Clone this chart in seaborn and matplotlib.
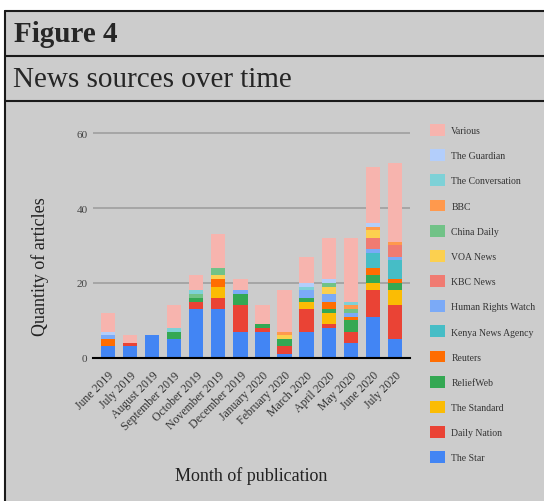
import numpy as np
import pandas as pd
import matplotlib.pyplot as plt
import seaborn as sns
from matplotlib.patches import Patch, Rectangle
from matplotlib.lines import Line2D

# data
months = ["June 2019", "July 2019", "August 2019", "September 2019", "October 2019",
          "November 2019", "December 2019", "January 2020", "February 2020",
          "March 2020", "April 2020", "May 2020", "June 2020", "July 2020"]

the_star = [3, 3, 6, 5, 13, 13, 7, 7, 1, 7, 8, 4, 11, 5]
daily_nation = [0, 1, 0, 0, 2, 3, 7, 1, 2, 6, 1, 3, 7, 9]
the_standard = [0, 0, 0, 0, 0, 3, 0, 0, 0, 2, 3, 0, 2, 4]
reliefweb = [0, 0, 0, 2, 1, 0, 3, 1, 2, 1, 1, 3, 2, 2]
reuters = [2, 0, 0, 0, 0, 2, 0, 0, 0, 0, 2, 1, 2, 1]
kenya_news_agency = [0, 0, 0, 0, 0, 0, 0, 0, 0, 0, 0, 0, 4, 5]
human_rights_watch = [1, 0, 0, 0, 0, 0, 1, 0, 0, 2, 2, 1, 1, 1]
kbc_news = [0, 0, 0, 0, 0, 0, 0, 0, 0, 0, 0, 0, 3, 3]
voa_news = [0, 0, 0, 0, 0, 1, 0, 0, 1, 0, 2, 0, 2, 0]
china_daily = [0, 0, 0, 0, 1, 2, 0, 0, 0, 0, 1, 1, 0, 0]
bbc = [0, 0, 0, 0, 0, 0, 0, 0, 1, 0, 0, 1, 1, 1]
the_conversation = [0, 0, 0, 1, 1, 0, 0, 0, 0, 1, 0, 1, 0, 0]
the_guardian = [1, 0, 0, 0, 0, 0, 0, 0, 0, 1, 1, 0, 1, 0]
various = [5, 2, 0, 6, 4, 9, 3, 5, 11, 7, 11, 17, 15, 21]

# legend order (top of stack first)
sources = ["Various", "The Guardian", "The Conversation", "BBC", "China Daily",
           "VOA News", "KBC News", "Human Rights Watch", "Kenya News Agency",
           "Reuters", "ReliefWeb", "The Standard", "Daily Nation", "The Star"]
colors = ["#F7B4AE", "#B3CEFB", "#7ED1D7", "#FF994D", "#71C287",
          "#FCD04F", "#F07B72", "#7BAAF7", "#46BDC6",
          "#FF6D01", "#34A853", "#FBBC04", "#EA4335", "#4285F4"]

counts = {
    "Various": various, "The Guardian": the_guardian,
    "The Conversation": the_conversation, "BBC": bbc, "China Daily": china_daily,
    "VOA News": voa_news, "KBC News": kbc_news,
    "Human Rights Watch": human_rights_watch, "Kenya News Agency": kenya_news_agency,
    "Reuters": reuters, "ReliefWeb": reliefweb, "The Standard": the_standard,
    "Daily Nation": daily_nation, "The Star": the_star,
}

wide = pd.DataFrame(counts)
wide["idx"] = np.arange(len(months))
df = wide.melt(id_vars="idx", var_name="source", value_name="n")

sns.set_theme(style="white")
plt.rcParams["font.family"] = ["Liberation Serif", "DejaVu Serif"]

W, H = 544, 502
fig = plt.figure(figsize=(W / 100, H / 100), dpi=100)
fig.patch.set_facecolor("white")

# grey panel + frame lines
fig.add_artist(Rectangle((5 / W, 0), 1, 1 - 12 / H, transform=fig.transFigure,
                         facecolor="#cccccc", edgecolor="none", zorder=-10))
for yy in [12, 57, 102]:
    fig.add_artist(Line2D([5 / W, 1], [1 - yy / H, 1 - yy / H], transform=fig.transFigure,
                          color="#1a1a1a", lw=1.5))
fig.add_artist(Line2D([5 / W, 5 / W], [0, 1 - 12 / H], transform=fig.transFigure,
                      color="#1a1a1a", lw=1.5))

fig.text(14 / W, 1 - 35 / H, "Figure 4", fontsize=21, fontweight="bold", va="center")
fig.text(13 / W, 1 - 80 / H, "News sources over time", fontsize=21, va="center")

ax = fig.add_axes([93 / W, (H - 358.7) / H, 317 / W, 226.4 / H])
ax.set_facecolor("#cccccc")

sns.histplot(data=df, x="idx", weights="n", hue="source", hue_order=sources,
             palette=colors, multiple="stack", discrete=True, shrink=0.65,
             linewidth=0, alpha=1, legend=False, ax=ax)

ax.set_xlim(-0.67, 13.68)
ax.set_ylim(0, 60.5)
ax.set_yticks([0, 20, 40, 60])
ax.yaxis.grid(True, color="#a3a3a3", lw=1.3)
ax.set_axisbelow(True)
for s in ["top", "right", "left"]:
    ax.spines[s].set_visible(False)
ax.spines["bottom"].set_color("black")
ax.spines["bottom"].set_linewidth(1.5)
ax.tick_params(axis="y", length=0, pad=4, labelsize=8, labelcolor="#444444")
ax.set_xticks(range(len(months)))
ax.set_xticklabels(months, rotation=45, ha="right", rotation_mode="anchor",
                   fontsize=8.5, color="#333333")
ax.tick_params(axis="x", length=0, pad=8)
ax.set_xlabel("")
ax.set_ylabel("")

fig.text(40 / W, 1 - 267 / H, "Quantity of articles", rotation=90, fontsize=13,
         ha="center", va="center", color="#222222")
fig.text(251 / W, 1 - 476 / H, "Month of publication", fontsize=13,
         ha="center", va="center", color="#222222")

handles = [Patch(facecolor=c, edgecolor="none", label=s) for s, c in zip(sources, colors)]
fig.legend(handles=handles, loc="upper left", bbox_to_anchor=(430 / W, 1 - 125 / H),
           frameon=False, fontsize=7, handlelength=1.5, handleheight=1.5,
           handletextpad=0.7, labelspacing=1.37, borderpad=0, borderaxespad=0,
           labelcolor="#333333")

fig.savefig("out.png", dpi=100)
